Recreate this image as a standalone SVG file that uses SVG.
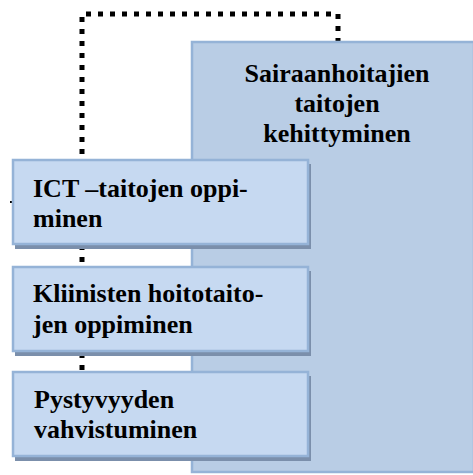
<svg xmlns="http://www.w3.org/2000/svg" width="473" height="475" viewBox="0 0 473 475">
<style>
.big{fill:#b9cde5;stroke:#95b3d7;stroke-width:2.5}
.box{fill:#c6d9f1;stroke:#95b3d7;stroke-width:2.5}
.sh{fill:#7b8fab}
.t{font-family:"Liberation Serif","Times New Roman",serif;font-weight:bold;font-size:26px;fill:#000}
.dot{fill:none;stroke:#000;stroke-width:5;stroke-dasharray:5 7}
</style>
<g id="connectors">
<polyline class="dot" points="82,370 82,14 338,14 338,42"/>
<rect x="10" y="201" width="2" height="2" fill="#000"/>
</g>
<g id="node-main">
<rect class="big" x="192" y="42" width="282" height="430"/>
<text class="t" text-anchor="middle"><tspan x="337" y="82">Sairaanhoitajien</tspan><tspan x="337" y="112">taitojen</tspan><tspan x="337" y="142">kehittyminen</tspan></text>
</g>
<g id="node-ict">
<rect class="sh" x="15" y="164" width="296" height="85"/>
<rect class="box" x="13" y="160" width="295" height="84"/>
<text class="t"><tspan x="33" y="197">ICT –taitojen oppi-</tspan><tspan x="33" y="227">minen</tspan></text>
</g>
<g id="node-kliiniset">
<rect class="sh" x="15" y="271" width="296" height="85"/>
<rect class="box" x="13" y="267" width="295" height="84"/>
<text class="t"><tspan x="33" y="302">Kliinisten hoitotaito-</tspan><tspan x="33" y="333">jen oppiminen</tspan></text>
</g>
<g id="node-pystyvyys">
<rect class="sh" x="15" y="376" width="296" height="85"/>
<rect class="box" x="13" y="372" width="295" height="84"/>
<text class="t"><tspan x="34" y="408">Pystyvyyden</tspan><tspan x="34" y="438">vahvistuminen</tspan></text>
</g>
</svg>
